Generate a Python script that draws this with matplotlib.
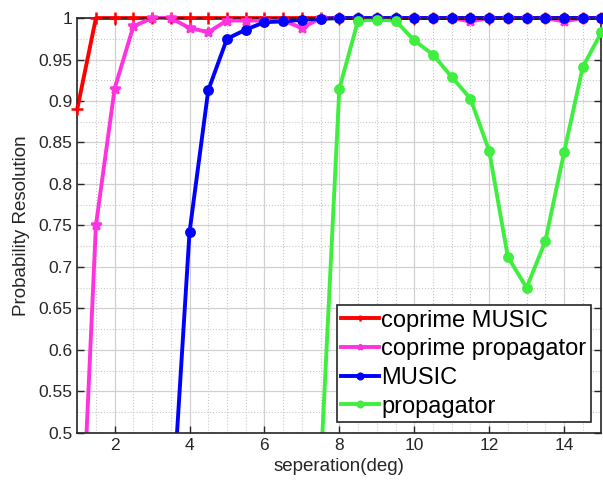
import numpy as np
import matplotlib
matplotlib.use('Agg')
import matplotlib.pyplot as plt
from matplotlib.ticker import MultipleLocator
from matplotlib.patches import Rectangle

plt.rcParams['font.family'] = ['Liberation Sans', 'DejaVu Sans']

# separation angles (deg)
sep = [1, 1.5, 2, 2.5, 3, 3.5, 4, 4.5, 5, 5.5, 6, 6.5, 7, 7.5, 8,
       8.5, 9, 9.5, 10, 10.5, 11, 11.5, 12, 12.5, 13, 13.5, 14, 14.5, 15]

coprime_music = [0.89, 1, 1, 1, 1, 1, 1, 1, 1, 1, 1, 1, 1, 1, 1,
                 1, 1, 1, 1, 1, 1, 1, 1, 1, 1, 1, 1, 1, 1]
coprime_prop = [0.25, 0.75, 0.915, 0.99, 1.0, 1.0, 0.988, 0.983, 0.997, 0.997, 0.997, 0.997, 0.988, 1, 1,
                1, 1, 1, 1, 1, 1, 0.996, 1, 1, 1, 1, 0.996, 1, 1]
music = [0.02, 0.04, 0.06, 0.12, 0.2, 0.38, 0.742, 0.913, 0.975, 0.986, 0.995, 0.996, 0.998, 0.999, 1,
         1, 1, 1, 1, 1, 1, 1, 1, 1, 1, 1, 1, 1, 1]
prop = [0.0, 0.01, 0.02, 0.03, 0.05, 0.07, 0.1, 0.12, 0.15, 0.2, 0.24, 0.3, 0.36, 0.455, 0.915,
        0.997, 0.998, 0.997, 0.973, 0.956, 0.929, 0.903, 0.84, 0.712, 0.675, 0.731, 0.838, 0.941, 0.983]

series = [
    (coprime_music, '+', '#ff0000', 8, 'coprime MUSIC'),
    (coprime_prop, '*', '#ff33dd', 7, 'coprime propagator'),
    (music, 'o', '#0000ff', 6, 'MUSIC'),
    (prop, 'o', '#40ee40', 6, 'propagator'),
]

fig = plt.figure(figsize=(6.03, 4.88), dpi=100)
ax = fig.add_axes([0.128, 0.113, 0.8695, 0.85])

# clip region: cut at the bottom, but let line width spill over top/sides
clip = Rectangle((-0.01, 0), 1.02, 1.02, transform=ax.transAxes, visible=False)
ax.add_patch(clip)

for vals, mk, col, ms, lab in series:
    ln, = ax.plot(sep, vals, '-', color=col, lw=2.8, marker=mk, ms=ms, mew=1.8, label=lab,
                  markevery=[i for i, v in enumerate(vals) if v < 0.5])
    ln.set_clip_path(clip)
    xs = [x for x, v in zip(sep, vals) if v >= 0.5]
    ys = [v for v in vals if v >= 0.5]
    ax.plot(xs, ys, ls='none', marker=mk, color=col, ms=ms, mew=1.8, clip_on=False, zorder=3)

ax.set_xlim(1, 15)
ax.set_ylim(0.5, 1)
ax.set_xticks([2, 4, 6, 8, 10, 12, 14])
ax.set_yticks(np.arange(0.5, 1.001, 0.05))
ax.set_yticklabels(['0.5', '0.55', '0.6', '0.65', '0.7', '0.75', '0.8', '0.85', '0.9', '0.95', '1'])
ax.xaxis.set_minor_locator(MultipleLocator(0.5))
ax.yaxis.set_minor_locator(MultipleLocator(0.025))
ax.grid(True, which='major', color='#d0d0d0', lw=0.9)
ax.grid(True, which='minor', color='#c8c8c8', lw=0.8, ls=':')
ax.set_axisbelow(True)
ax.tick_params(which='both', direction='in', top=True, right=True, labelsize=12.5, colors='#262626')
ax.tick_params(which='minor', length=0)
ax.tick_params(which='major', length=5, width=1)
for s in ax.spines.values():
    s.set_color('#262626')
    s.set_linewidth(1.2)

ax.set_xlabel('seperation(deg)', fontsize=13.5, color='#262626')
ax.set_ylabel('Probability Resolution', fontsize=13.5, color='#262626', labelpad=6)

leg = ax.legend(loc='lower right', fontsize=17, handlelength=1.6, handletextpad=0.08,
                borderpad=0.2, labelspacing=0.28, fancybox=False, framealpha=1,
                edgecolor='#262626', borderaxespad=0.45)
leg.get_frame().set_linewidth(1.2)
for h in leg.legend_handles:
    h.set_markersize(4)

fig.savefig('out.png', dpi=100)
